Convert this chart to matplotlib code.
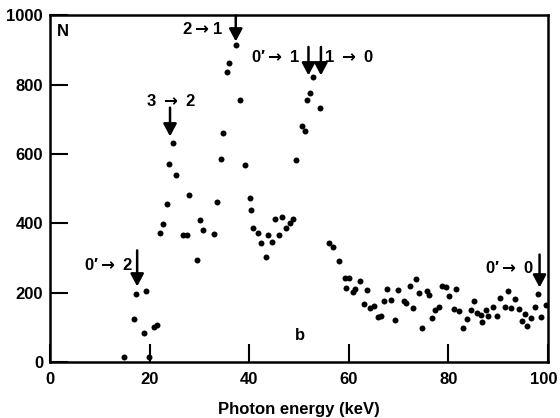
import matplotlib
matplotlib.use("Agg")
import matplotlib.pyplot as plt
import matplotlib.transforms as mtransforms

plt.rcParams['font.family'] = ['Liberation Sans', 'DejaVu Sans']
plt.rcParams['font.weight'] = 'bold'
plt.rcParams['mathtext.fontset'] = 'custom'
plt.rcParams['mathtext.rm'] = 'Liberation Sans:bold'
plt.rcParams['mathtext.bf'] = 'DejaVu Sans:bold'

# photon energy (keV) and counts N
energy = [14.8, 16.8, 17.3, 18.8, 19.2, 19.9, 20.8, 21.4, 22.0, 22.7,
          23.4, 23.9, 24.7, 25.3, 26.7, 27.6, 27.9, 29.6, 30.1, 30.8,
          33.0, 33.6, 34.3, 34.8, 35.5, 36.0, 37.3, 38.2, 39.1, 40.2,
          40.4, 40.8, 41.7, 42.4, 43.3, 43.7, 44.5, 45.2, 46.0, 46.6,
          47.4, 48.1, 48.8, 49.3, 50.5, 51.3, 51.6, 52.2, 52.9, 54.2,
          56.1, 56.8, 58.1, 59.3, 59.4, 60.1, 60.8, 61.2, 62.2, 63.1,
          63.6, 64.2, 65.0, 65.8, 66.4, 67.0, 67.6, 68.5, 69.2, 69.8,
          71.0, 71.5, 72.2, 72.9, 73.5, 74.1, 74.6, 75.6, 76.2, 76.7,
          77.4, 78.1, 78.7, 79.5, 80.1, 81.1, 81.6, 82.2, 83.0, 83.7,
          84.5, 85.1, 85.8, 86.6, 86.7, 87.6, 88.0, 88.9, 89.7, 90.4,
          91.3, 91.9, 92.6, 93.4, 94.1, 94.8, 95.4, 95.8, 96.6, 97.3,
          98.0, 98.6, 99.5]
counts = [13, 123, 197, 83, 204, 13, 102, 108, 373, 397,
          455, 572, 631, 541, 367, 366, 481, 295, 410, 380,
          369, 463, 585, 660, 838, 863, 914, 755, 569, 474,
          438, 386, 371, 343, 304, 367, 346, 412, 367, 418,
          386, 400, 412, 583, 682, 668, 757, 775, 822, 732,
          343, 332, 290, 243, 213, 243, 201, 210, 235, 168,
          207, 156, 162, 130, 132, 176, 211, 179, 120, 209,
          176, 170, 219, 156, 239, 200, 99, 205, 193, 126,
          149, 160, 218, 216, 191, 152, 211, 146, 99, 123,
          149, 176, 142, 135, 114, 149, 133, 160, 133, 186,
          160, 205, 155, 181, 152, 117, 139, 104, 128, 160,
          197, 131, 165]

# transition labels: text, label centre, arrow x, arrow top, arrow tip
AR = r"$\mathbf{\rightarrow}$"
labels = ["2" + AR + "1", "3 " + AR + " 2", "0\u2032" + AR + " 2",
          "0\u2032" + AR + " 1", "1 " + AR + " 0", "0\u2032" + AR + " 0"]
label_x = [30.6, 24.2, 11.8, 45.3, 60.1, 92.3]
label_y = [960, 754, 280, 880, 880, 270]
arrow_x = [37.3, 24.1, 17.5, 51.9, 54.4, 98.3]
arrow_top = [1000, 734, 322, 909, 909, 310]
arrow_tip = [925, 651, 218, 827, 827, 215]

fig = plt.figure(figsize=(5.6, 4.18), dpi=100)
ax = fig.add_axes([0.0893, 0.134, 0.8893, 0.829])

ax.plot(energy, counts, 'o', color='black', markersize=4.3, markeredgewidth=0)

for txt, lx, ly in zip(labels, label_x, label_y):
    ax.text(lx, ly, txt, fontsize=12, fontweight='bold', ha='center', va='center')
for x0, y0, y1 in zip(arrow_x, arrow_top, arrow_tip):
    ax.annotate('', xy=(x0, y1), xytext=(x0, y0),
                arrowprops=dict(arrowstyle='-|>,head_length=0.75,head_width=0.4',
                                color='black', lw=1.8, shrinkA=0, shrinkB=0))

ax.text(1.4, 955, "N", fontsize=12, fontweight='bold', ha='left', va='center')
ax.text(50.1, 75, "b", fontsize=12, fontweight='bold', ha='center', va='center')

ax.set_xlim(0, 100)
ax.set_ylim(0, 1000)
ax.set_xticks([0, 20, 40, 60, 80, 100])
ax.set_yticks([0, 200, 400, 600, 800, 1000])
ax.tick_params(direction='in', length=13, width=1.5, labelsize=12, pad=5)
ax.tick_params(axis='x', pad=7)
for lab in ax.get_xticklabels() + ax.get_yticklabels():
    lab.set_fontweight('bold')
# keep "100" inside the figure edge
last = ax.get_xticklabels()[-1]
last.set_transform(last.get_transform() +
                   mtransforms.ScaledTranslation(-3 / 72, 0, fig.dpi_scale_trans))
for sp in ax.spines.values():
    sp.set_linewidth(1.8)
ax.set_xlabel("Photon energy (keV)", fontsize=12, fontweight='bold', labelpad=11)

fig.savefig("out.png", dpi=100)
